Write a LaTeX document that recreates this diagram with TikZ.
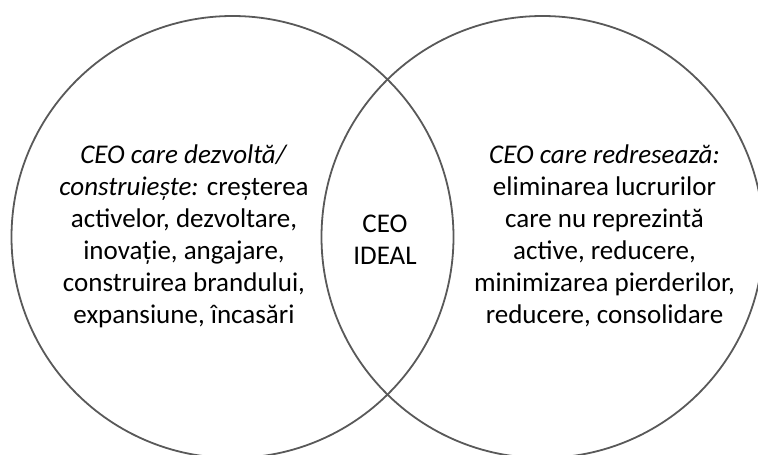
\documentclass[tikz,border=0pt]{standalone}
\usepackage{fontspec}
\setmainfont{Carlito}
\usepackage{tikz}
\definecolor{ringgray}{HTML}{595959}
\tikzset{
  ring/.style={circle, draw=ringgray, line width=1.8pt, minimum size=442pt, inner sep=0pt},
  venntext/.style={align=center, text=black, font=\fontsize{27}{32}\selectfont}
}

\begin{document}
\begin{tikzpicture}[x=1pt, y=-1pt]
\clip (0,0) rectangle (758,455);
\useasboundingbox (0,0) rectangle (758,455);

\begin{scope}[every node/.style={ring}]
  \node (grow) at (232.5,237) {};
  \node (turn) at (542.5,237) {};
\end{scope}

\begin{scope}[every node/.style={venntext}]
  \node (growtext) at (184,236) {\textit{CEO care dezvoltă/}\\
    \textit{construiește:} creșterea\\
    activelor, dezvoltare,\\
    inovație, angajare,\\
    construirea brandului,\\
    expansiune, încasări};
  \node (ideal) at (385,240) {CEO\\IDEAL};
  \node (turntext) at (604.5,236) {\textit{CEO care redresează:}\\
    eliminarea lucrurilor\\
    care nu reprezintă\\
    active, reducere,\\
    minimizarea pierderilor,\\
    reducere, consolidare};
\end{scope}

\end{tikzpicture}
\end{document}
